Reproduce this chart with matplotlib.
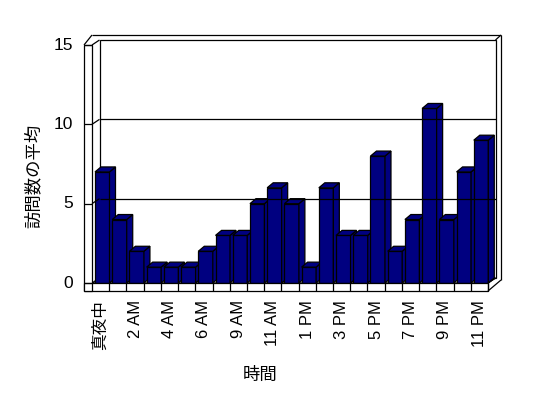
import matplotlib
matplotlib.use("Agg")
import matplotlib.pyplot as plt
from matplotlib.patches import Polygon, Rectangle

plt.rcParams['font.family'] = ['Liberation Sans', 'Noto Sans CJK JP', 'DejaVu Sans']

# データ
hours = ['真夜中', '1 AM', '2 AM', '3 AM', '4 AM', '5 AM', '6 AM', '8 AM',
         '9 AM', '10 AM', '11 AM', '正午', '1 PM', '2 PM', '3 PM', '4 PM',
         '5 PM', '6 PM', '7 PM', '8 PM', '9 PM', '10 PM', '11 PM']
visits = [7, 4, 2, 1, 1, 1, 2, 3, 3, 5, 6, 5, 1, 6, 3, 3, 8, 2, 4, 11, 4, 7, 9]
yticks = [0, 5, 10, 15]

W, H = 548, 398
fig = plt.figure(figsize=(W / 100, H / 100), dpi=100)
ax = fig.add_axes([92 / W, (H - 283) / H, 396 / W, 238 / H])
n = len(hours)
X0, X1 = -0.5, n - 0.5
YTOP = yticks[-1]
ax.set_xlim(X0, X1)
ax.set_ylim(0, YTOP)
ax.axis('off')

# 1ピクセルあたりのデータ単位
ux = 396 / n
uy = 238 / YTOP
DX, DY = 7.5 / ux, 5 / uy      # 奥行き
TX, TY = 8 / ux, 8 / uy        # 壁・床の厚み
OX, OY = 13 / ux, 10 / uy      # 外枠
BDX, BDY = 6 / ux, 5 / uy      # 棒の奥行き
BL, BW = 3 / ux, 14.5 / ux     # 棒の位置と幅

navy = '#000080'
lw = 0.9


def line(xs, ys):
    ax.plot(xs, ys, color='black', lw=lw, clip_on=False, solid_capstyle='butt')


def poly(pts, fc):
    ax.add_patch(Polygon(pts, closed=True, facecolor=fc, edgecolor='black',
                         lw=lw, clip_on=False, joinstyle='miter'))


# 奥の壁
poly([(X0 + DX, DY), (X1 + DX, DY), (X1 + DX, YTOP + DY), (X0 + DX, YTOP + DY)], 'white')
# 外枠
line([X0, X1 + OX], [YTOP + OY, YTOP + OY])
line([X1 + DX, X1 + OX], [YTOP + DY, YTOP + OY])
line([X1 + OX, X1 + OX], [YTOP + OY, 3 / uy])
line([X1 + OX, X1], [3 / uy, -TY])
line([X0 - TX, X0], [YTOP, YTOP + OY])
line([X0, X0 + DX], [YTOP, YTOP + DY])

# 目盛線
for v in yticks[1:-1]:
    line([X0, X0 + DX], [v, v + DY])
    line([X0 + DX, X1 + DX], [v + DY, v + DY])

# 床
poly([(X0, 0), (X1, 0), (X1 + DX, DY), (X0 + DX, DY)], 'white')

# 棒
for i, v in enumerate(visits):
    l = i - 0.5 + BL
    r = l + BW
    ax.add_patch(Rectangle((l, 0), BW, v, facecolor=navy, edgecolor='black',
                           lw=lw, clip_on=False))
    poly([(r, 0), (r + BDX, BDY), (r + BDX, v + BDY), (r, v)], navy)
    poly([(l, v), (r, v), (r + BDX, v + BDY), (l + BDX, v + BDY)], navy)

# 左の壁(前面)
ax.add_patch(Rectangle((X0 - TX, -TY), TX, YTOP + TY, facecolor='white',
                       edgecolor='black', lw=lw, clip_on=False))
for v in yticks:
    line([X0 - TX, X0], [v, v])
    ax.text(X0 - TX - 11 / ux, v, str(v), ha='right', va='center', fontsize=12.5)

# 床(前面)
ax.add_patch(Rectangle((X0 - TX, -TY), X1 - X0 + TX, TY, facecolor='white',
                       edgecolor='black', lw=lw, clip_on=False))
for k in range(n + 1):
    line([X0 + k, X0 + k], [-TY, 0])
line([X1, X1 + DX], [0, DY])

# 横軸ラベル
for i, h in enumerate(hours):
    if i % 2 == 0:
        ax.text(i, -TY - 9 / uy, h, rotation=90, ha='center', va='top', fontsize=12)

fig.text(33 / W, 1 - 176 / H, '訪問数の平均', rotation=90, ha='center', va='center', fontsize=12.5)
fig.text(260 / W, 1 - 375 / H, '時間', ha='center', va='center', fontsize=12.5)

fig.savefig('out.png', dpi=100)
